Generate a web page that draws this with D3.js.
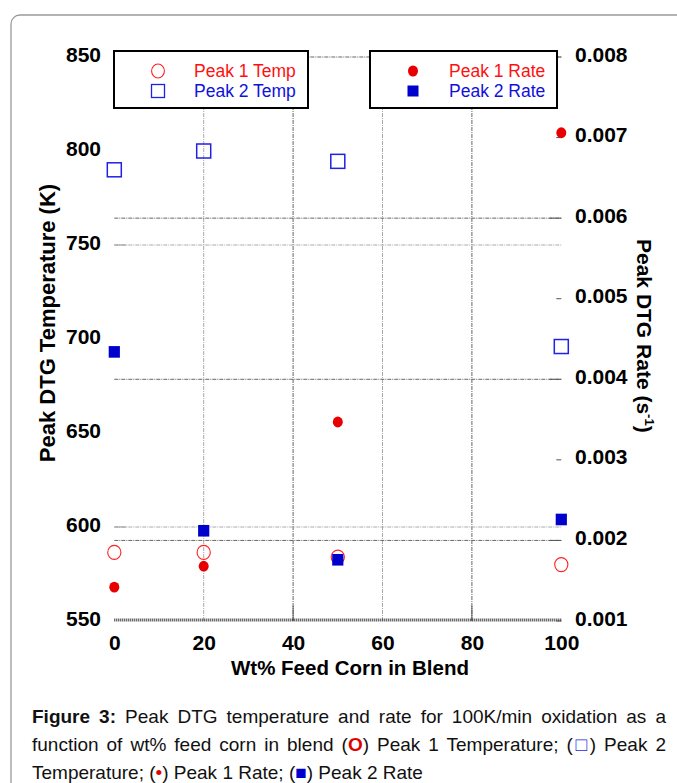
<!DOCTYPE html>
<html>
<head>
<meta charset="utf-8">
<script src="https://cdn.jsdelivr.net/npm/d3@7"></script>
<style>
  html, body { margin: 0; padding: 0; background: #fff; }
  body { width: 677px; height: 783px; position: relative; overflow: hidden; }
  svg { position: absolute; left: 0; top: 0; }
  #cap { position: absolute; left: 32px; top: 703px; width: 634px;
         font-family: 'Liberation Sans', Arial, sans-serif; font-size: 19px;
         color: #111; line-height: 28px; }
  #cap .j { text-align: justify; text-align-last: justify; }
</style>
</head>
<body>
<svg id="chart" width="677" height="783"></svg>
<div id="cap"></div>
<script>
// ---------------- data ----------------
const categories = [0, 20, 50, 100];                 // Wt% feed corn in blend
const peak1Temp  = [586.5, 586.5, 584, 580];         // K (left axis)
const peak2Temp  = [790, 800, 794.5, 696];           // K (left axis)
const peak1Rate  = [0.00142, 0.00168, 0.00347, 0.00706]; // s^-1 (right axis)
const peak2Rate  = [0.00434, 0.00212, 0.00176, 0.00226]; // s^-1 (right axis)
const xTicks     = [0, 20, 40, 60, 80, 100];
const leftTicks  = [550, 600, 650, 700, 750, 800, 850];
const rightTicks = [0.001, 0.002, 0.003, 0.004, 0.005, 0.006, 0.007, 0.008];
const xGrid      = [20, 40, 60, 80];
const leftGrid   = [600, 750];
const rightGrid  = [0.002, 0.004, 0.006, 0.008];
const xTitle     = "Wt% Feed Corn in Blend";
const leftTitle  = "Peak DTG Temperature (K)";
const legendLeft  = ["Peak 1 Temp", "Peak 2 Temp"];
const legendRight = ["Peak 1 Rate", "Peak 2 Rate"];

// ---------------- layout ----------------
const svg = d3.select("#chart");
const L = 114.3, R = 561.3, T = 57, B = 621;
const x  = d3.scaleLinear().domain([0, 100]).range([L, R]);
const yL = d3.scaleLinear().domain([550, 850]).range([B, T]);
const yR = d3.scaleLinear().domain([0.001, 0.008]).range([B, T]);

const RED = "#e80000", RED_O = "#ff2020", BLUE = "#0000cc", BLUE_O = "#2020e6";
const FONT = "'Liberation Sans', Arial, sans-serif";

// card border
svg.append("rect").attr("x", 11).attr("y", 15).attr("width", 720).attr("height", 820)
  .attr("rx", 9).attr("fill", "none").attr("stroke", "#9a9a9a").attr("stroke-width", 1.3);

// ---------------- grid ----------------
const g = svg.append("g");
g.selectAll(".vg").data(xGrid).join("line")
  .attr("x1", d => x(d)).attr("x2", d => x(d)).attr("y1", T).attr("y2", B)
  .attr("stroke", d => (d % 40 === 0) ? "#666" : "#aaa").attr("stroke-width", 1)
  .attr("stroke-dasharray", "4,1,1,1");
g.selectAll(".lg").data(leftGrid).join("line")
  .attr("x1", L).attr("x2", R).attr("y1", d => yL(d)).attr("y2", d => yL(d))
  .attr("stroke", "#aaa").attr("stroke-width", 1).attr("stroke-dasharray", "4,1,1,1");
g.selectAll(".rg").data(rightGrid).join("line")
  .attr("x1", L).attr("x2", R).attr("y1", d => yR(d)).attr("y2", d => yR(d))
  .attr("stroke", "#666").attr("stroke-width", 1).attr("stroke-dasharray", "4,1,1,1");

// ticks (inward)
g.selectAll(".lt").data(leftGrid).join("line")
  .attr("x1", L).attr("x2", L + 12).attr("y1", d => yL(d)).attr("y2", d => yL(d))
  .attr("stroke", "#999").attr("stroke-width", 1);
g.selectAll(".rt").data(rightTicks).join("line")
  .attr("x1", d => R - (Math.round(d * 1000) % 2 === 0 ? 12 : 5)).attr("x2", R)
  .attr("y1", d => yR(d)).attr("y2", d => yR(d))
  .attr("stroke", "#555").attr("stroke-width", 1);
g.selectAll(".xt").data([40, 80]).join("line")
  .attr("x1", d => x(d)).attr("x2", d => x(d)).attr("y1", B).attr("y2", B - 15)
  .attr("stroke", "#555").attr("stroke-width", 1);

// bottom axis (dense minor ticks)
g.append("line").attr("x1", L).attr("x2", R).attr("y1", B - 1).attr("y2", B - 1)
  .attr("stroke", "#333").attr("stroke-width", 3).attr("stroke-dasharray", "1,1");

// ---------------- axes labels ----------------
const lab = svg.append("g").attr("font-family", FONT).attr("font-weight", "bold")
  .attr("font-size", 21).attr("fill", "#000");

const axL = d3.axisLeft(yL).tickValues(leftTicks).tickSize(0).tickPadding(0).tickFormat(d3.format("d"));
const gl = svg.append("g").attr("transform", `translate(${101},0)`).call(axL);
const axR = d3.axisRight(yR).tickValues(rightTicks).tickSize(0).tickPadding(0).tickFormat(d3.format(".3f"));
const gr = svg.append("g").attr("transform", `translate(${575},0)`).call(axR);
const axB = d3.axisBottom(x).tickValues(xTicks).tickSize(0).tickPadding(0).tickFormat(d3.format("d"));
const gb = svg.append("g").attr("transform", `translate(0,${B})`).call(axB);
[gl, gr, gb].forEach(a => {
  a.select(".domain").remove();
  a.selectAll("text").attr("font-family", FONT).attr("font-weight", "bold")
    .attr("font-size", 21).attr("fill", "#000");
});
gl.selectAll("text").attr("dy", null).attr("y", 4).attr("dominant-baseline", "alphabetic");
gr.selectAll("text").attr("dy", null).attr("y", 4).attr("dominant-baseline", "alphabetic");
gb.selectAll("text").attr("dy", null).attr("y", 29).attr("dominant-baseline", "alphabetic");

// titles
lab.append("text").attr("x", 350).attr("y", 675).attr("text-anchor", "middle")
  .attr("font-size", 20.5).text(xTitle);
lab.append("text").attr("transform", "translate(55,323) rotate(-90)")
  .attr("text-anchor", "middle").attr("font-size", 22).text(leftTitle);
const rt = lab.append("text").attr("transform", "translate(637,239) rotate(90)")
  .attr("text-anchor", "start");
rt.append("tspan").text("Peak DTG Rate (s");
rt.append("tspan").attr("font-size", 13).attr("dy", -8).text("-1");
rt.append("tspan").attr("dy", 8).text(")");

// ---------------- data marks ----------------
const m = svg.append("g");
// open circles: Peak 1 Temp
m.selectAll(".p1t").data(categories).join("ellipse")
  .attr("cx", (d) => x(d)).attr("cy", (d, i) => yL(peak1Temp[i]))
  .attr("rx", 6.6).attr("ry", 7).attr("fill", "none").attr("stroke", RED_O).attr("stroke-width", 1.1);
// open squares: Peak 2 Temp
m.selectAll(".p2t").data(categories).join("rect")
  .attr("x", d => x(d) - 7).attr("y", (d, i) => yL(peak2Temp[i]) - 7)
  .attr("width", 14).attr("height", 14).attr("fill", "none").attr("stroke", BLUE_O).attr("stroke-width", 1.5);
// filled squares: Peak 2 Rate
m.selectAll(".p2r").data(categories).join("rect")
  .attr("x", d => x(d) - 5.6).attr("y", (d, i) => yR(peak2Rate[i]) - 5.8)
  .attr("width", 11.2).attr("height", 11.6).attr("fill", BLUE);
// filled circles: Peak 1 Rate
m.selectAll(".p1r").data(categories).join("ellipse")
  .attr("cx", d => x(d)).attr("cy", (d, i) => yR(peak1Rate[i]))
  .attr("rx", 5).attr("ry", 5.4).attr("fill", RED);

// ---------------- legends ----------------
function legend(x0, x1, labels, markers) {
  const lg = svg.append("g");
  lg.append("rect").attr("x", x0).attr("y", 51).attr("width", x1 - x0).attr("height", 57)
    .attr("fill", "#fff").attr("stroke", "#000").attr("stroke-width", 2);
  markers(lg);
  return lg;
}
legend(114, 308, legendLeft, lg => {
  lg.append("ellipse").attr("cx", 158).attr("cy", 71).attr("rx", 6.4).attr("ry", 7)
    .attr("fill", "none").attr("stroke", RED_O).attr("stroke-width", 1.1);
  lg.append("rect").attr("x", 151.5).attr("y", 84.5).attr("width", 13).attr("height", 13)
    .attr("fill", "none").attr("stroke", BLUE_O).attr("stroke-width", 1.3);
  lg.selectAll("text").data(legendLeft).join("text")
    .attr("x", 194).attr("y", (d, i) => 77 + i * 20)
    .attr("font-family", FONT).attr("font-size", 17.5)
    .attr("fill", (d, i) => i === 0 ? "#ff1010" : "#1010dd").text(d => d);
});
legend(370, 557, legendRight, lg => {
  lg.append("ellipse").attr("cx", 413).attr("cy", 71).attr("rx", 5).attr("ry", 5.5).attr("fill", RED);
  lg.append("rect").attr("x", 407.5).attr("y", 85.5).attr("width", 11).attr("height", 11).attr("fill", BLUE);
  lg.selectAll("text").data(legendRight).join("text")
    .attr("x", 449).attr("y", (d, i) => 77 + i * 20)
    .attr("font-family", FONT).attr("font-size", 17.5)
    .attr("fill", (d, i) => i === 0 ? "#ff1010" : "#1010dd").text(d => d);
});

// ---------------- caption ----------------
const cap = d3.select("#cap");
cap.append("div").attr("class", "j")
  .html("<b>Figure 3:</b> Peak DTG temperature and rate for 100K/min oxidation as a");
cap.append("div").attr("class", "j")
  .html("function of wt% feed corn in blend (<b style='color:#e00000'>O</b>) Peak 1 Temperature; (<span style='color:#2a2ae0'>&#9633;</span>) Peak 2");
cap.append("div")
  .html("Temperature; (<span style='color:#e00000'>&#8226;</span>) Peak 1 Rate; (<span style='color:#0000cc'>&#9632;</span>) Peak 2 Rate");
</script>
</body>
</html>
